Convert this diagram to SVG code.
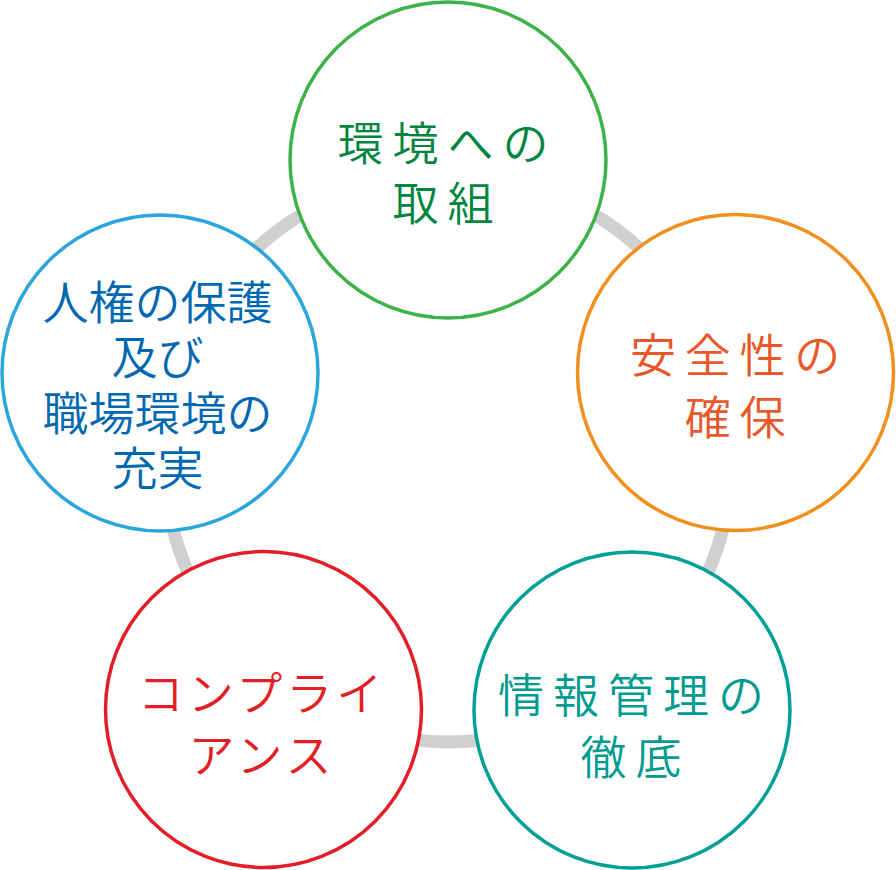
<svg xmlns="http://www.w3.org/2000/svg" width="896" height="870" viewBox="0 0 896 870">
<style>
.node circle{fill:#fff;stroke-width:3.5}
.node text{font-family:"Noto Sans CJK JP","Noto Sans CJK SC",sans-serif;font-size:46px;text-anchor:middle;font-weight:350}
</style>
<rect width="896" height="870" fill="#fff"/>
<g id="connectors">
<circle cx="448" cy="458" r="284" fill="none" stroke="#d0d0d0" stroke-width="13"/>
</g>
<g id="node-env" class="node">
<circle cx="448" cy="160" r="158" stroke="#3cb34a"/>
<text fill="#00853f" letter-spacing="9"><tspan x="447.5" y="160">環境への</tspan><tspan x="447.5" y="220">取組</tspan></text>
</g>
<g id="node-safety" class="node">
<circle cx="735.5" cy="372.5" r="158" stroke="#f0901e"/>
<text fill="#e8582a" letter-spacing="8.7"><tspan x="739.5" y="372">安全性の</tspan><tspan x="739.5" y="434">確保</tspan></text>
</g>
<g id="node-info" class="node">
<circle cx="632" cy="710" r="158" stroke="#00a095"/>
<text fill="#009b90" letter-spacing="9"><tspan x="635.5" y="712">情報管理の</tspan><tspan x="635.5" y="774">徹底</tspan></text>
</g>
<g id="node-compliance" class="node">
<circle cx="263.5" cy="709.5" r="158" stroke="#e41e26"/>
<text fill="#e41e26" letter-spacing="4"><tspan x="262" y="710">コンプライ</tspan><tspan x="262" y="772">アンス</tspan></text>
</g>
<g id="node-human" class="node">
<circle cx="160" cy="373" r="158" stroke="#2ca5dd"/>
<text fill="#0068b2"><tspan x="157.5" y="319">人権の保護</tspan><tspan x="157.5" y="374">及び</tspan><tspan x="157.5" y="430">職場環境の</tspan><tspan x="157.5" y="485">充実</tspan></text>
</g>
</svg>
